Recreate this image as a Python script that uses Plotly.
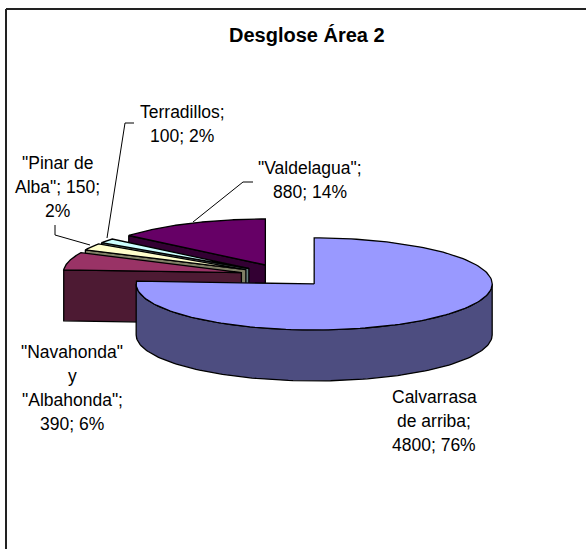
import numpy as np
import plotly.graph_objects as go

# ---------- data ----------
categories = ['Calvarrasa de arriba', '"Navahonda" y "Albahonda"', '"Pinar de Alba"', 'Terradillos', '"Valdelagua"']
values = [4800, 390, 150, 100, 880]
percent_labels = ['76%', '6%', '2%', '2%', '14%']
top_colors = ['#9999FF', '#993366', '#FFFFCC', '#CCFFFF', '#660066']
side_colors = ['#4D4D80', '#4D1A33', '#808066', '#668080', '#330033']

# ---------- label layout ----------
label_lines = [
    ['Calvarrasa', 'de arriba;', '4800; 76%'],
    ['"Navahonda"', 'y', '"Albahonda";', '390; 6%'],
    ['"Pinar de', 'Alba"; 150;', '2%'],
    ['Terradillos;', '100; 2%'],
    ['"Valdelagua";', '880; 14%'],
]
label_x = [434, 72, 57, 182, 310]
label_y0 = [397, 352, 163, 112, 168]
line_pitch = 24
leader_x = [[193, 243, 253], [90, 55, 55], [107, 125, 134]]
leader_y = [[222, 182, 182], [245, 235, 225], [238, 123, 123]]

# ---------- 3D pie projection ----------
W, H = 586, 549
CX, CY = 284, 275.5      # pie origin
RX, RY = 178, 46         # ellipse radii
EX, EY = 44, 11.6        # explosion offset
DEPTH = 51
FONT = 'Liberation Sans'

total = sum(values)
ends = np.cumsum(values) / total * 2 * np.pi
starts = np.concatenate([[0], ends[:-1]])


def slice_center(a0, a1):
    mid = (a0 + a1) / 2
    return CX + EX * np.sin(mid), CY - EY * np.cos(mid)


def rim(cx, cy, angles, dy=0):
    return cx + RX * np.sin(angles), cy - RY * np.cos(angles) + dy


fig = go.Figure()


def poly(xs, ys, fill):
    fig.add_trace(go.Scatter(
        x=list(xs) + [xs[0]], y=list(ys) + [ys[0]], mode='lines', fill='toself',
        fillcolor=fill, line=dict(color='black', width=1.3), hoverinfo='skip', showlegend=False))


# back to front: Valdelagua, Terradillos, Pinar, Navahonda, Calvarrasa
for i in [4, 3, 2, 1, 0]:
    a0, a1 = starts[i], ends[i]
    cx, cy = slice_center(a0, a1)
    # radial wall at the slice start when it faces the viewer
    if a0 > np.pi:
        rx0, ry0 = rim(cx, cy, np.array([a0]))
        poly([rx0[0], cx, cx, rx0[0]], [ry0[0], cy, cy + DEPTH, ry0[0] + DEPTH], side_colors[i])
    # outer rim wall over the front half
    lo, hi = max(a0, np.pi / 2), min(a1, 3 * np.pi / 2)
    if hi > lo:
        t = np.linspace(lo, hi, 120)
        xt, yt = rim(cx, cy, t)
        xb, yb = rim(cx, cy, t[::-1], DEPTH)
        poly(np.concatenate([xt, xb]), np.concatenate([yt, yb]), side_colors[i])
    # top face
    t = np.linspace(a0, a1, 160)
    xt, yt = rim(cx, cy, t)
    poly(np.concatenate([[cx], xt]), np.concatenate([[cy], yt]), top_colors[i])

# leader lines
for lx, ly in zip(leader_x, leader_y):
    fig.add_trace(go.Scatter(x=lx, y=ly, mode='lines', line=dict(color='black', width=1),
                             hoverinfo='skip', showlegend=False))

# labels, line by line
annotations = []
for lines, x, y0 in zip(label_lines, label_x, label_y0):
    for k, line in enumerate(lines):
        annotations.append(dict(x=x, y=y0 + k * line_pitch, text=line, showarrow=False,
                                xref='x', yref='y', xanchor='center', yanchor='middle',
                                font=dict(family=FONT, size=17.5, color='black')))
annotations.append(dict(x=307, y=35, text='<b>Desglose Área 2</b>', showarrow=False,
                        xref='x', yref='y', xanchor='center', yanchor='middle',
                        font=dict(family=FONT, size=20, color='black')))

frame = [
    dict(type='line', xref='x', yref='y', x0=6, x1=6, y0=9, y1=H, line=dict(color='#222222', width=2)),
    dict(type='line', xref='x', yref='y', x0=6, x1=W, y0=9, y1=9, line=dict(color='#222222', width=2)),
]

fig.update_layout(
    width=W, height=H, margin=dict(l=0, r=0, t=0, b=0), paper_bgcolor='white', plot_bgcolor='white',
    xaxis=dict(range=[0, W], visible=False, fixedrange=True),
    yaxis=dict(range=[H, 0], visible=False, fixedrange=True),
    annotations=annotations, shapes=frame, showlegend=False,
)
fig.write_html('out.html', config={'displayModeBar': False},
               post_script="document.body.style.margin='0';document.documentElement.style.overflow='hidden';")
